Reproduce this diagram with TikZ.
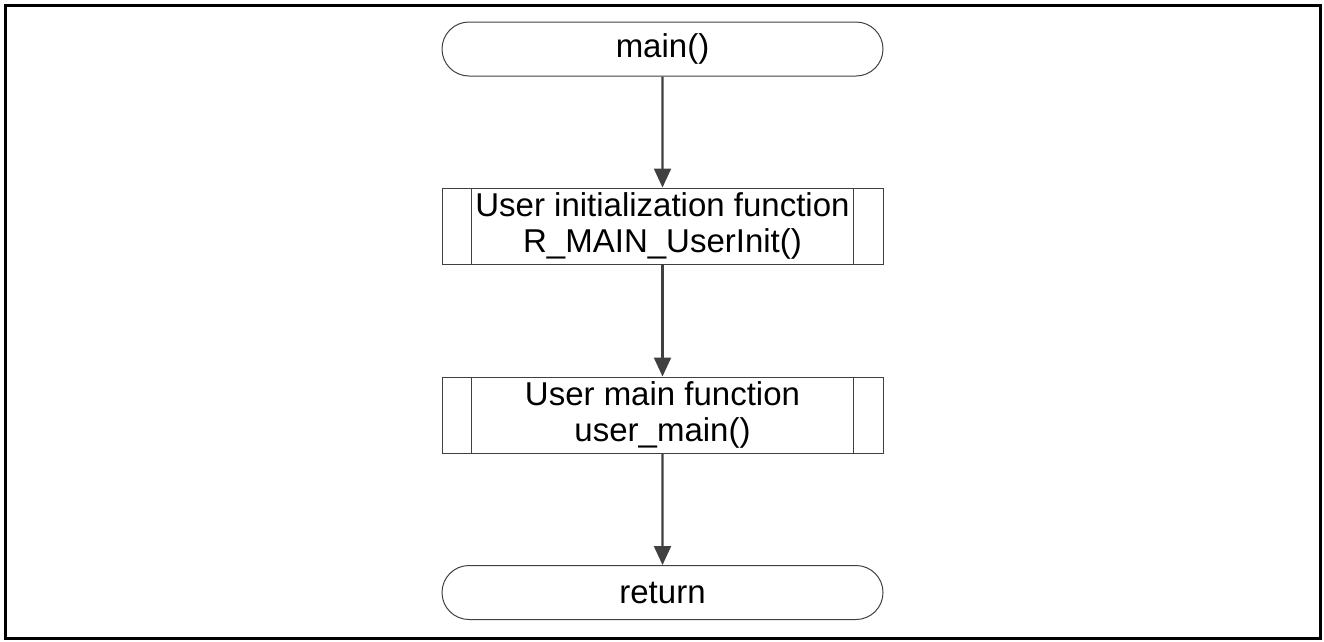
\documentclass[tikz,border=0pt]{standalone}
\usepackage{fontspec}
\setmainfont{Liberation Sans}
\usetikzlibrary{arrows.meta,shapes.misc}
\begin{document}
\begin{tikzpicture}[x=1pt,y=-1pt,
  term/.style={draw=black!75,line width=1pt,rounded rectangle,minimum width=441pt,minimum height=54pt,inner sep=0pt,font=\fontsize{33}{36}\selectfont},
  proc/.style={draw=black!75,line width=1pt,rectangle,minimum width=441pt,minimum height=76pt,inner sep=0pt,align=center,font=\fontsize{33}{35.5}\selectfont},
  conn/.style={draw=black!75,line width=2.2pt,-{Triangle[length=19pt,width=17pt]}}]
\useasboundingbox (0,0) rectangle (1324,641);
\draw[line width=3pt] (5,5) rectangle (1320,638);
\node[term] (start) at (662.5,49) {main()};
\node[proc] (init) at (662.5,226) {User initialization function\\R\_MAIN\_UserInit()};
\node[proc] (umain) at (662.5,415) {User main function\\user\_main()};
\node[term] (ret) at (662.5,592.5) {return};
\foreach \n in {init,umain}{
  \draw[draw=black!75,line width=1pt] ([xshift=30pt]\n.north west) -- ([xshift=30pt]\n.south west);
  \draw[draw=black!75,line width=1pt] ([xshift=-30pt]\n.north east) -- ([xshift=-30pt]\n.south east);
}
\draw[conn] (start) -- (init);
\draw[conn] (init) -- (umain);
\draw[conn] (umain) -- (ret);
\end{tikzpicture}
\end{document}
